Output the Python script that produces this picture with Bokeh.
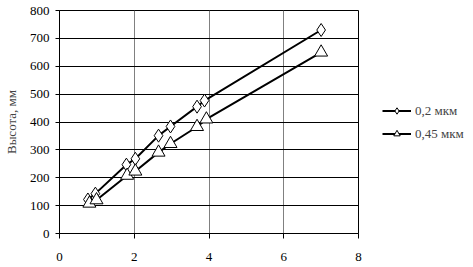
from bokeh.plotting import figure
from bokeh.models import Range1d, Legend, LegendItem, FixedTicker
from bokeh.embed import file_html
from bokeh.resources import INLINE

x_02 = [0.76, 0.96, 1.79, 2.03, 2.65, 2.97, 3.68, 3.88, 7.0]
y_02 = [122, 143, 247, 268, 351, 384, 455, 477, 730]
x_045 = [0.8, 0.99, 1.81, 2.03, 2.65, 2.97, 3.68, 3.93, 7.0]
y_045 = [108, 120, 208, 223, 291, 322, 383, 410, 650]
series_names = ["0,2 мкм", "0,45 мкм"]
x_ticks = [0, 2, 4, 6, 8]
y_ticks = [0, 100, 200, 300, 400, 500, 600, 700, 800]
y_label = "Высота, мм"

FONT = "Liberation Serif"

p = figure(frame_width=299, frame_height=223, output_backend="svg", toolbar_location=None,
           x_range=Range1d(0, 8), y_range=Range1d(0, 800),
           min_border_left=0, min_border_right=0, min_border_top=10, min_border_bottom=0)
p.background_fill_color = "white"
p.border_fill_color = "white"
p.outline_line_color = "black"
p.outline_line_width = 1

p.xaxis.ticker = FixedTicker(ticks=x_ticks)
p.yaxis.ticker = FixedTicker(ticks=y_ticks)
for ax in (p.xaxis[0], p.yaxis[0]):
    ax.axis_line_color = "black"
    ax.major_tick_line_color = "black"
    ax.minor_tick_line_color = None
    ax.major_label_text_font = FONT
    ax.major_label_text_font_size = "13px"
    ax.major_label_text_color = "black"
p.xaxis.major_tick_out = 5
p.xaxis.major_tick_in = 0
p.xaxis.major_label_standoff = 14
p.yaxis.major_tick_out = 4
p.yaxis.major_tick_in = 0
p.yaxis.major_label_standoff = 6
p.yaxis.axis_label = y_label
p.yaxis.axis_label_text_font = FONT
p.yaxis.axis_label_text_font_size = "13px"
p.yaxis.axis_label_text_font_style = "normal"
p.yaxis.axis_label_standoff = 8

p.ygrid.grid_line_color = "black"
p.ygrid.grid_line_width = 1
p.ygrid.level = "image"
p.xgrid.grid_line_color = "#808080"
p.xgrid.grid_line_width = 1
p.xgrid.level = "image"

l1 = p.line(x_02, y_02, line_color="black", line_width=2)
s1 = p.scatter(x_02, y_02, marker="diamond", size=13, fill_color="white", line_color="black", line_width=1)
l2 = p.line(x_045, y_045, line_color="black", line_width=2)
s2 = p.scatter(x_045, y_045, marker="triangle", size=13, fill_color="white", line_color="black", line_width=1)

legend = Legend(items=[LegendItem(label=series_names[0], renderers=[l1, s1]),
                       LegendItem(label=series_names[1], renderers=[l2, s2])],
                location="center_left", orientation="vertical")
legend.label_text_font = FONT
legend.label_text_font_size = "13px"
legend.glyph_width = 29
legend.glyph_height = 16
legend.label_standoff = 4
legend.spacing = 7
legend.padding = 0
legend.margin = 24
legend.border_line_color = None
legend.background_fill_alpha = 0
p.add_layout(legend, "right")

open("out.html", "w").write(file_html(p, INLINE))
